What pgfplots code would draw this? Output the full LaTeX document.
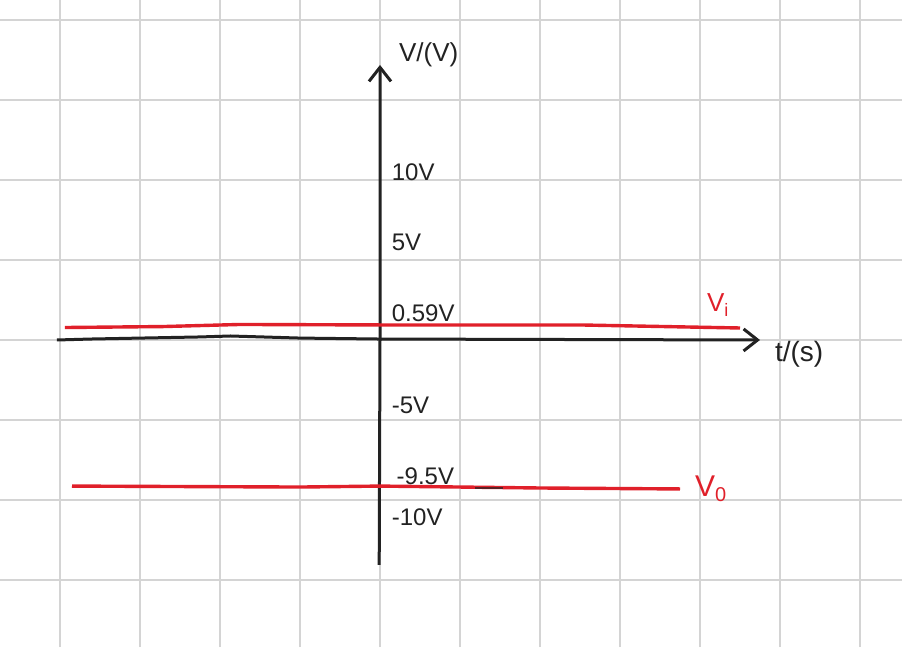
\documentclass[border=0pt]{standalone}
\usepackage{pgfplots}
\pgfplotsset{compat=1.18}
\usepackage{fontspec}
\setmainfont{Liberation Sans}
\usetikzlibrary{arrows.meta}
\definecolor{pen}{HTML}{222222}
\definecolor{redpen}{HTML}{E0202A}
\definecolor{gridc}{HTML}{D4D4D4}
\begin{document}
\begin{tikzpicture}
\begin{axis}[
  name=ax,
  width=451pt, height=323.5pt, scale only axis,
  xmin=-4.75, xmax=6.525, ymin=-19.1875, ymax=21.25,
  axis line style={draw=none},
  xtick={-4,-3,...,6}, ytick={-15,-10,...,20},
  xticklabels={}, yticklabels={},
  major tick length=0pt,
  grid=major, grid style={gridc, line width=0.75pt},
  clip=false,
]
% x axis (t)
\addplot[pen, line width=1.5pt, -{Straight Barb[length=7pt,width=11pt]}] coordinates {
 (-4.04,0.0) (-3.62,0.06) (-2.25,0.19) (-1.87,0.25) (-1.0,0.12) (0,0.06) (4.75,0.0)};
% y axis (V)
\addplot[pen, line width=1.5pt, -{Straight Barb[length=7pt,width=11pt]}] coordinates {
 (-0.01,-14.06) (0,0) (0.0,17.19)};
% Vi
\addplot[redpen, line width=1.7pt] coordinates {
 (-3.94,0.78) (-2.71,0.84) (-1.75,0.97) (0,0.94) (2.5,0.94) (4.5,0.75)};
% Vo
\addplot[redpen, line width=1.7pt] coordinates {
 (-3.85,-9.13) (-1.0,-9.19) (0,-9.13) (2.0,-9.25) (3.75,-9.31)};
\addplot[pen!70!redpen, line width=1.4pt] coordinates {(1.19,-9.25) (1.54,-9.25)};
% labels
\node[pen, anchor=west] at (axis cs:0.15,17.8) {\fontsize{13}{15}\selectfont V/(V)};
\node[pen, anchor=west] at (axis cs:0.06,10.5) {\fontsize{12}{14}\selectfont 10V};
\node[pen, anchor=west] at (axis cs:0.06,6.1) {\fontsize{12}{14}\selectfont 5V};
\node[pen, anchor=west] at (axis cs:0.06,1.7) {\fontsize{12}{14}\selectfont 0.59V};
\node[pen, anchor=west] at (axis cs:0.06,-4.1) {\fontsize{12}{14}\selectfont -5V};
\node[pen, anchor=west] at (axis cs:0.12,-8.5) {\fontsize{12}{14}\selectfont -9.5V};
\node[pen, anchor=west] at (axis cs:0.06,-11.1) {\fontsize{12}{14}\selectfont -10V};
\node[pen, anchor=west] at (axis cs:4.85,-0.9) {\fontsize{14}{16}\selectfont t/(s)};
\node[redpen, anchor=west] at (axis cs:4.0,2.2) {\fontsize{13}{15}\selectfont V\raisebox{-0.35ex}{\fontsize{9}{10}\selectfont i}};
\node[redpen, anchor=west] at (axis cs:3.85,-9.3) {\fontsize{15}{17}\selectfont V\raisebox{-0.35ex}{\fontsize{10}{11}\selectfont 0}};
\end{axis}
\pgfresetboundingbox
\path[use as bounding box] (ax.south west) rectangle (ax.north east);
\end{tikzpicture}
\end{document}
